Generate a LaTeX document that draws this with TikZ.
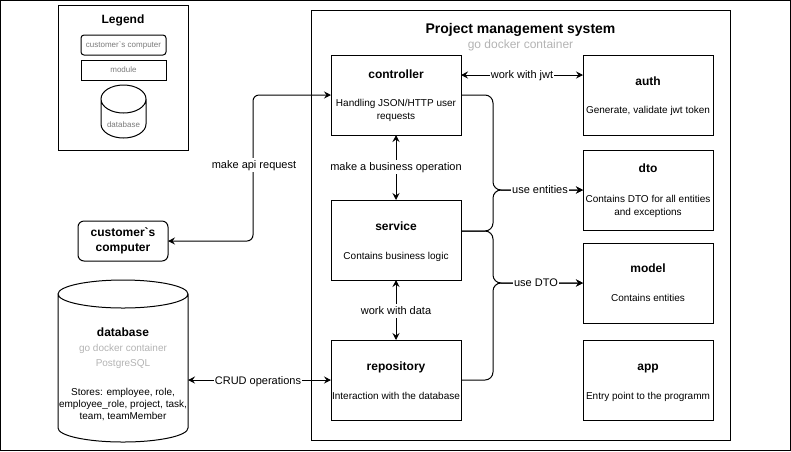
\documentclass[tikz,border=0pt]{standalone}
\usepackage{fontspec}
\setmainfont{Liberation Sans}
\usetikzlibrary{arrows.meta,calc}
\definecolor{subgray}{HTML}{B3B3B3}
\definecolor{lgdgray}{HTML}{7A7A7A}
\newcommand{\drawcyl}[3]{%
  \draw[line width=1pt] ($(#1.north)+(0,#3)$) ellipse [x radius=#2pt, y radius=#3pt]
    ($(#1.north west)+(0,#3)$) -- ($(#1.south west)+(0,-#3)$)
    arc[start angle=180, end angle=360, x radius=#2pt, y radius=#3pt]
    -- ($(#1.north east)+(0,#3)$);}
\begin{document}
\begin{tikzpicture}[x=1pt,y=-1pt,line width=1pt,
  every node/.style={inner sep=0pt, outer sep=0pt},
  >={Stealth[length=7pt,width=7pt,inset=2.5pt]},
  frame/.style={draw, anchor=north west},
  modbox/.style={draw, anchor=north west, minimum width=130pt, minimum height=80pt},
  tbig/.style={font=\bfseries\fontsize{14}{16}\selectfont, text height=10pt, text depth=0pt},
  tttl/.style={font=\bfseries\fontsize{12}{14}\selectfont, text height=8.6pt, text depth=0pt},
  tsub/.style={font=\fontsize{12}{14}\selectfont, text height=8.6pt, text depth=0pt, text=subgray},
  tbody/.style={font=\fontsize{10}{12}\selectfont, text height=7.2pt, text depth=0pt},
  tgray/.style={tbody, text=subgray},
  tlgd/.style={font=\fontsize{8}{10}\selectfont, text height=5.7pt, text depth=0pt, text=lgdgray},
  lbl/.style={font=\fontsize{11}{13}\selectfont, text height=7.9pt, text depth=0pt, fill=white, inner xsep=1pt, inner ysep=3pt}]
\useasboundingbox (0,0) rectangle (791,451);
\draw (0.5,0.5) rectangle (790.5,450.5);

% legend
\node[frame, minimum width=130pt, minimum height=145pt] (legend) at (58,5) {};
\node[tttl] (legendt) at (123,19) {Legend};
\node[frame, rounded corners=3pt, minimum width=85pt, minimum height=20pt, tlgd] (lgcust) at (81,35) {customer\textasciigrave s computer};
\node[frame, minimum width=85pt, minimum height=20pt, tlgd] (lgmod) at (81,60) {module};
\node[anchor=north west, minimum width=45pt, minimum height=53pt] (lgdb) at (101,85) {};
\drawcyl{lgdb}{22.5}{14}
\node[tlgd] (lgdbt) at (123.5,125) {database};

% system container
\node[frame, minimum width=419pt, minimum height=430pt] (sys) at (311,10) {};
\node[tbig] (syst) at (520.5,28) {Project management system};
\node[tsub] (syss) at (520.5,44) {go docker container};

% modules
\node[modbox] (ctrl) at (331,55) {};
\node[tttl] (ctrlt) at (396,74) {controller};
\node[tbody] (ctrlb1) at (396,103) {Handling JSON/HTTP user};
\node[tbody] (ctrlb2) at (396,116) {requests};

\node[modbox] (auth) at (583,55) {};
\node[tttl] (autht) at (648,81) {auth};
\node[tbody] (authb) at (648,110) {Generate, validate jwt token};

\node[modbox] (dto) at (583,150) {};
\node[tttl] (dtot) at (648,168) {dto};
\node[tbody] (dtob1) at (648,199) {Contains DTO for all entities};
\node[tbody] (dtob2) at (648,212) {and exceptions};

\node[modbox] (svc) at (331,200) {};
\node[tttl] (svct) at (396,226) {service};
\node[tbody] (svcb) at (396,256) {Contains business logic};

\node[modbox] (model) at (583,243) {};
\node[tttl] (modelt) at (648,268) {model};
\node[tbody] (modelb) at (648,298) {Contains entities};

\node[modbox] (repo) at (331,340) {};
\node[tttl] (repot) at (396,366) {repository};
\node[tbody] (repob) at (396,396) {Interaction with the database};

\node[modbox] (app) at (583,340) {};
\node[tttl] (appt) at (648,366) {app};
\node[tbody] (appb) at (648,396) {Entry point to the programm};

% customer computer
\node[frame, rounded corners=6pt, minimum width=90pt, minimum height=40pt, align=center,
      font=\bfseries\fontsize{12}{15}\selectfont] (cust) at (78,221) {customer\textasciigrave s\\computer};

% database
\node[anchor=north west, minimum width=130pt, minimum height=162pt] (db) at (58,280) {};
\drawcyl{db}{65}{14}
\node[tttl] (dbt) at (123,332) {database};
\node[tgray] (dbs1) at (123,348) {go docker container};
\node[tgray] (dbs2) at (123,363) {PostgreSQL};
\node[tbody] (dbb1) at (123,392) {Stores: employee, role,};
\node[tbody] (dbb2) at (123,404) {employee\_role, project, task,};
\node[tbody] (dbb3) at (123,416) {team, teamMember};

% connectors
\coordinate (apix) at (253,0);
\coordinate (bus) at (493,0);
\draw[<->, rounded corners=6pt] (ctrl.west) -| (apix |- cust.east) -- (cust.east);
\draw[<->] ($(ctrl.north east)+(0,20)$) -- ($(auth.north west)+(0,20)$);
\draw[<->] (ctrl.south) -- (svc.north);
\draw[<->] (svc.south) -- (repo.north);
\draw[<->] (db.east |- repo.west) -- (repo.west);
\draw[->, rounded corners=8pt] (ctrl.east) -| (bus |- dto.west) -- (dto.west);
\draw[->, rounded corners=8pt] ($(svc.north east)+(0,31)$) -| (bus |- dto.west) -- (dto.west);
\draw[->, rounded corners=8pt] ($(svc.north east)+(0,31)$) -| (bus |- model.west) -- (model.west);
\draw[->, rounded corners=8pt] (repo.east) -| (bus |- model.west) -- (model.west);

% connector labels
\node[lbl] (lapi) at (254,165) {make api request};
\node[lbl] (ljwt) at (522,75) {work with jwt};
\node[lbl] (lbiz) at (396,167) {make a business operation};
\node[lbl] (ldata) at (396,311) {work with data};
\node[lbl] (lcrud) at (258,381) {CRUD operations};
\node[lbl] (lent) at (540,190) {use entities};
\node[lbl] (ldto) at (536,283) {use DTO};
\end{tikzpicture}
\end{document}
